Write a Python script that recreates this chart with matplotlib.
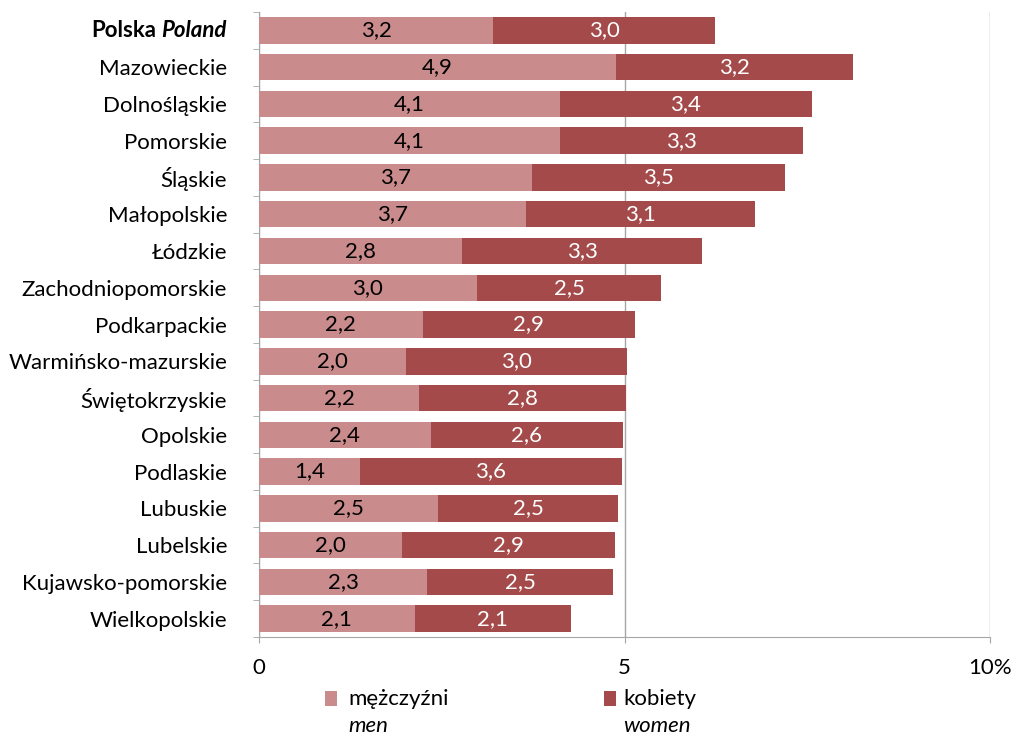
import matplotlib
matplotlib.use("Agg")
import matplotlib.pyplot as plt
from matplotlib.patches import Rectangle
import numpy as np

plt.rcParams['font.family'] = ['Lato', 'DejaVu Sans']

regions = ["Polska", "Mazowieckie", "Dolnośląskie", "Pomorskie", "Śląskie", "Małopolskie",
           "Łódzkie", "Zachodniopomorskie", "Podkarpackie", "Warmińsko-mazurskie",
           "Świętokrzyskie", "Opolskie", "Podlaskie", "Lubuskie", "Lubelskie",
           "Kujawsko-pomorskie", "Wielkopolskie"]
men = [3.20, 4.88, 4.12, 4.12, 3.73, 3.65, 2.78, 2.98, 2.24, 2.01, 2.19, 2.35, 1.38, 2.45, 1.96, 2.30, 2.13]
women = [3.04, 3.24, 3.44, 3.32, 3.47, 3.13, 3.28, 2.52, 2.90, 3.02, 2.83, 2.63, 3.58, 2.46, 2.91, 2.54, 2.14]
men_labels = ["3,2", "4,9", "4,1", "4,1", "3,7", "3,7", "2,8", "3,0", "2,2", "2,0", "2,2", "2,4", "1,4", "2,5", "2,0", "2,3", "2,1"]
women_labels = ["3,0", "3,2", "3,4", "3,3", "3,5", "3,1", "3,3", "2,5", "2,9", "3,0", "2,8", "2,6", "3,6", "2,5", "2,9", "2,5", "2,1"]
xticks = [0, 5, 10]
xtick_labels = ["0", "5", "10%"]

c_men = "#C98B8B"
c_women = "#A44A4A"
gray = "#A6A6A6"
FS = 16

fig = plt.figure(figsize=(10.11, 7.35), dpi=100)
W, H = 1011, 735
ax = fig.add_axes([259 / W, 1 - 637 / H, (990 - 259) / W, (637 - 12) / H])

n = len(regions)
y = np.arange(n)
ax.barh(y, men, height=0.72, color=c_men, zorder=3)
ax.barh(y, women, left=men, height=0.72, color=c_women, zorder=3)

for i in range(n):
    ax.text(men[i] / 2, y[i], men_labels[i], ha='center', va='center', fontsize=FS, color='black', zorder=4)
    ax.text(men[i] + women[i] / 2, y[i], women_labels[i], ha='center', va='center', fontsize=FS, color='white', zorder=4)

ax.set_ylim(n - 0.5, -0.5)
ax.set_xlim(0, 10)

ax.set_yticks(y)
ylabels = [""] + regions[1:]
ax.set_yticklabels(ylabels, fontsize=FS)
ax.tick_params(axis='y', which='major', length=0, pad=23)
ax.set_yticks(np.arange(-0.5, n, 1.0), minor=True)
ax.tick_params(axis='y', which='minor', length=4.3, color=gray, direction='out')

ax.set_xticks(xticks)
ax.set_xticklabels(xtick_labels, fontsize=FS)
ax.tick_params(axis='x', which='major', length=4, color=gray, direction='out', pad=11)

ax.grid(axis='x', color=gray, linewidth=1, zorder=0)
for s in ['top', 'right']:
    ax.spines[s].set_visible(False)
for s in ['left', 'bottom']:
    ax.spines[s].set_color(gray)

# First label: "Polska" bold + "Poland" bold italic
fig.canvas.draw()
renderer = fig.canvas.get_renderer()
ypix = ax.transData.transform((0, 0))[1]
t2 = fig.text(227 / W, ypix / H, "Poland", ha='right', va='center', fontsize=FS,
              fontweight='bold', fontstyle='italic')
bb = t2.get_window_extent(renderer)
fig.text((bb.x0 - 5) / W, ypix / H, "Polska", ha='right', va='center', fontsize=FS, fontweight='bold')

# Legend
fig.patches.append(Rectangle((325 / W, 1 - 706 / H), 12 / W, 15 / H, transform=fig.transFigure,
                             facecolor=c_men, edgecolor='none'))
fig.text(348 / W, 1 - 699 / H, "mężczyźni", ha='left', va='center', fontsize=FS)
fig.text(348 / W, 1 - 726 / H, "men", ha='left', va='center', fontsize=FS, fontstyle='italic')
fig.patches.append(Rectangle((604 / W, 1 - 706 / H), 12 / W, 15 / H, transform=fig.transFigure,
                             facecolor=c_women, edgecolor='none'))
fig.text(623 / W, 1 - 699 / H, "kobiety", ha='left', va='center', fontsize=FS)
fig.text(623 / W, 1 - 726 / H, "women", ha='left', va='center', fontsize=FS, fontstyle='italic')

fig.savefig("out.png", dpi=100)
